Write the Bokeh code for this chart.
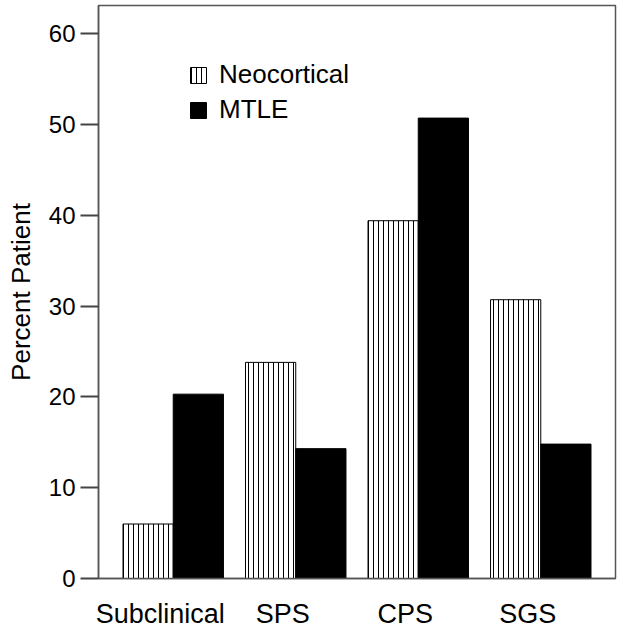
from bokeh.plotting import figure
from bokeh.models import (ColumnDataSource, FixedTicker, Legend, LegendItem,
                          LinearAxis, Range1d)
from bokeh.transform import dodge
from bokeh.embed import file_html
from bokeh.resources import INLINE

categories = ["Subclinical", "SPS", "CPS", "SGS"]
neocortical = [6.0, 23.8, 39.4, 30.7]
mtle = [20.3, 14.3, 50.7, 14.8]
y_ticks = [0, 10, 20, 30, 40, 50, 60]

n = len(categories)
idx = list(range(n))
src = ColumnDataSource(data=dict(idx=idx, cat=categories, neo=neocortical, mtle=mtle))

PAD = 0.61          # space between the outer bars' group centres and the frame
SHIFT = 0.106       # category labels sit a little left of the group centres
p = figure(x_range=Range1d(-PAD, n - 1 + PAD), y_range=(0, 63.1), width=618, height=628,
           frame_width=517, frame_height=573,
           min_border_left=98, min_border_right=3, min_border_top=5, min_border_bottom=50,
           output_backend="svg", toolbar_location=None)

FONT = "Liberation Sans"
BAR_W = 0.41

r1 = p.vbar(x=dodge("idx", -BAR_W / 2), top="neo", width=BAR_W, source=src,
            fill_color="white", line_color="black", line_width=1,
            hatch_pattern="|", hatch_scale=5, hatch_weight=1, hatch_color="black")
r2 = p.vbar(x=dodge("idx", BAR_W / 2), top="mtle", width=BAR_W, source=src,
            fill_color="black", line_color="black", line_width=1)

p.xgrid.visible = False
p.ygrid.visible = False
p.outline_line_color = "#555555"
p.outline_line_width = 1.5

# y axis
p.yaxis.ticker = FixedTicker(ticks=y_ticks)
p.yaxis.minor_tick_line_color = None
p.yaxis.major_tick_out = 18
p.yaxis.major_tick_in = 0
p.yaxis.major_tick_line_color = "#444444"
p.yaxis.major_tick_line_width = 2
p.yaxis.axis_line_color = "#555555"
p.yaxis.axis_line_width = 1.5
p.yaxis.major_label_text_font = FONT
p.yaxis.major_label_text_font_size = "24px"
p.yaxis.major_label_text_color = "black"
p.yaxis.major_label_standoff = 5
p.yaxis.axis_label = "Percent Patient"
p.yaxis.axis_label_text_font = FONT
p.yaxis.axis_label_text_font_size = "26px"
p.yaxis.axis_label_text_font_style = "normal"
p.yaxis.axis_label_text_color = "black"
p.yaxis.axis_label_standoff = 10

# x axis: category names on a slightly shifted index axis
p.xaxis.visible = False
p.extra_x_ranges = {"lab": Range1d(start=-PAD + SHIFT, end=n - 1 + PAD + SHIFT)}
lab_axis = LinearAxis(x_range_name="lab",
                      ticker=FixedTicker(ticks=idx),
                      major_label_overrides={i: c for i, c in zip(idx, categories)})
lab_axis.major_tick_line_color = None
lab_axis.minor_tick_line_color = None
lab_axis.axis_line_color = "#555555"
lab_axis.axis_line_width = 1.5
lab_axis.major_label_text_font = FONT
lab_axis.major_label_text_font_size = "27px"
lab_axis.major_label_text_color = "black"
lab_axis.major_label_standoff = 14
p.add_layout(lab_axis, "below")

legend = Legend(items=[LegendItem(label="Neocortical", renderers=[r1]),
                       LegendItem(label="MTLE", renderers=[r2])],
                location=(90, 453), orientation="vertical",
                glyph_width=20, glyph_height=20, label_height=20,
                label_standoff=11, spacing=4, padding=0, margin=0,
                border_line_color=None, background_fill_alpha=0,
                label_text_font=FONT, label_text_font_size="26px", label_text_color="black")
p.add_layout(legend)

open("out.html", "w").write(file_html(p, INLINE))
